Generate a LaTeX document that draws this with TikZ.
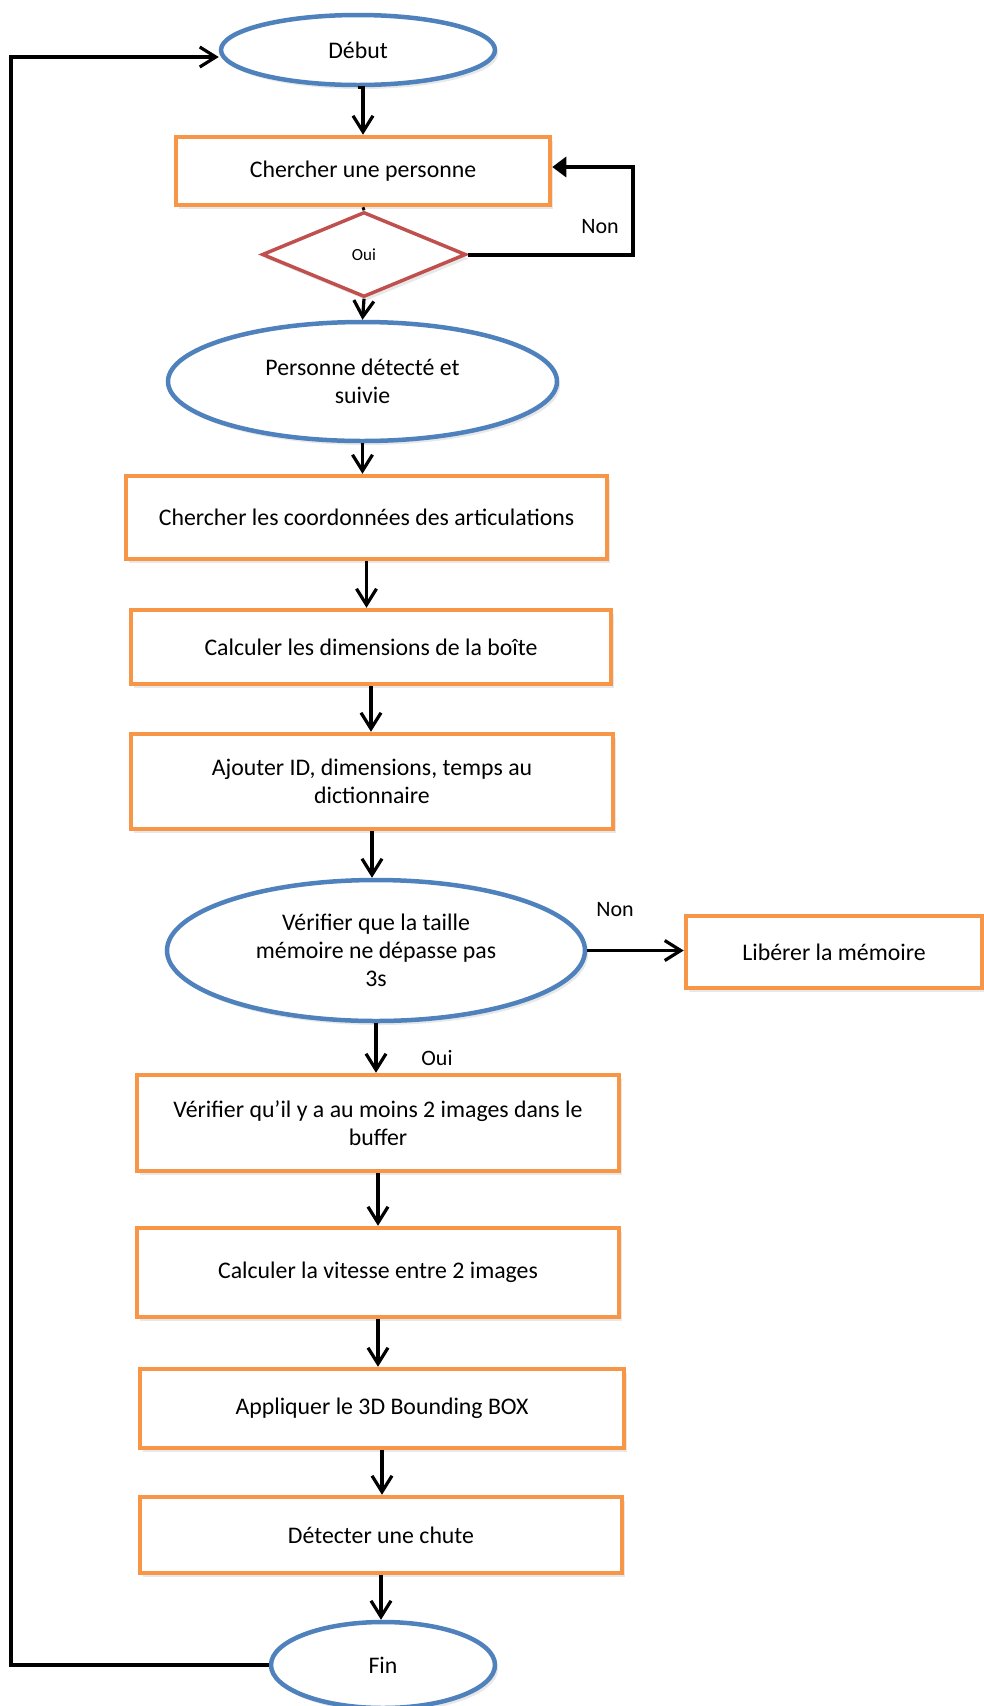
\documentclass[tikz,border=0pt]{standalone}
\usepackage{fontspec}
\setmainfont{Carlito}
\usetikzlibrary{positioning}
\usetikzlibrary{arrows.meta}
\usetikzlibrary{shapes.geometric}
\usetikzlibrary{shadows}
\definecolor{orange}{RGB}{247,150,70}
\definecolor{blue}{RGB}{79,129,189}
\definecolor{red}{RGB}{192,80,77}

\begin{document}
\begin{tikzpicture}[x=1pt, y=-1pt, every node/.style={font=\fontsize{22}{28}\selectfont},
    box/.style 2 args={draw=orange, line width=4.5pt, fill=white, minimum width=#1, minimum height=#2, inner sep=0pt, align=center, font=\fontsize{23.8}{28}\selectfont, drop shadow={shadow xshift=3pt, shadow yshift=-4pt, opacity=0.18}},
    ell/.style 2 args={ellipse, draw=blue, line width=4.5pt, fill=white, minimum width=#1, minimum height=#2, inner sep=0pt, align=center, font=\fontsize{23.8}{28}\selectfont, drop shadow={shadow xshift=3pt, shadow yshift=-4pt, opacity=0.18}},
    arr/.style={line width=3.2pt, -{Straight Barb[length=16pt, width=20pt, line width=3.2pt]}}]
    \useasboundingbox (0,0) rectangle (984,1706);
    \node[ell={274}{70}] (debut) at (358, 50) {Début};
    \node[box={374}{68}] (chercher) at (363, 171) {Chercher une personne};
    \node[diamond, aspect=2.4, draw=red, line width=3.5pt, fill=white, minimum width=204, minimum height=85, inner sep=0pt, font=\fontsize{17}{20}\selectfont, drop shadow={shadow xshift=3pt, shadow yshift=-4pt, opacity=0.18}] (test) at (364, 254.5) {Oui};
    \node[ell={389}{119}] (suivie) at (362.5, 381.5) {Personne détecté et\\suivie};
    \node[box={481}{83}] (coord) at (366.5, 517.5) {Chercher les coordonnées des articulations};
    \node[box={480}{74}] (dim) at (371, 647) {Calculer les dimensions de la boîte};
    \node[box={482}{95}] (dico) at (372, 781.5) {Ajouter ID, dimensions, temps au\\dictionnaire};
    \node[ell={418}{141}] (taille) at (376, 950.5) {Vérifier que la taille\\mémoire ne dépasse pas\\3s};
    \node[box={296}{72}] (liberer) at (834, 952) {Libérer la mémoire};
    \node[box={482}{96}] (buffer) at (378, 1123) {Vérifier qu’il y a au moins 2 images dans le\\buffer};
    \node[box={482}{89}] (vitesse) at (378, 1272.5) {Calculer la vitesse entre 2 images};
    \node[box={484}{79}] (bbox) at (382, 1408.5) {Appliquer le 3D Bounding BOX};
    \node[box={482}{76}] (chute) at (381, 1535) {Détecter une chute};
    \node[ell={224}{86}] (fin) at (383, 1665) {Fin};
    \node (non1) at (600, 227) {Non};
    \node (non2) at (615, 910) {Non};
    \node (oui2) at (437, 1058) {Oui};
    \coordinate (boucle) at (633, 167);
    \coordinate (retour) at (11, 57);
    \draw[arr] (debut.south) -- (debut.south -| chercher.north) -- (chercher.north);
    \draw[line width=3pt] (chercher.south) -- (test.north);
    \draw[arr] (test.south) -- (suivie.north);
    \draw[line width=4pt, -{Triangle[length=14pt, width=20pt]}] (test.east) -| (boucle) -- (boucle -| chercher.east);
    \draw[arr] (suivie.south) -- (suivie.south |- coord.north);
    \draw[arr] (coord.south) -- (coord.south |- dim.north);
    \draw[arr] (dim.south) -- (dim.south |- dico.north);
    \draw[arr] (dico.south) -- (dico.south |- taille.north);
    \draw[arr] (taille.east) -- (taille.east -| liberer.west);
    \draw[arr] (taille.south) -- (taille.south |- buffer.north);
    \draw[arr] (buffer.south) -- (buffer.south |- vitesse.north);
    \draw[arr] (vitesse.south) -- (vitesse.south |- bbox.north);
    \draw[arr] (bbox.south) -- (bbox.south |- chute.north);
    \draw[arr] (chute.south) -- (chute.south |- fin.north);
    \draw[arr] (fin.west) -| (retour) -- (retour -| debut.west);
\end{tikzpicture}
\end{document}
